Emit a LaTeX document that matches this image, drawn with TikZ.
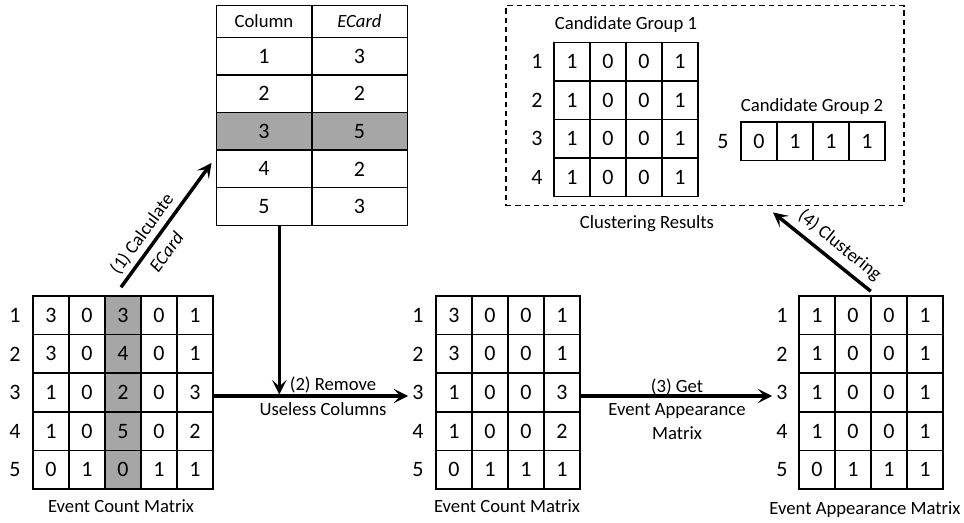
\documentclass[tikz,border=0pt]{standalone}
\usepackage{fontspec}
\setmainfont{Carlito}
\usetikzlibrary{arrows.meta,calc}
\definecolor{shade}{RGB}{166,166,166}
\begin{document}
\begin{tikzpicture}[x=0.75pt,y=-0.75pt,
  cell/.style={draw, line width=1.1pt, minimum width=27pt, minimum height=28.95pt,
    inner sep=0pt, font=\fontsize{16.5}{16.5}\selectfont},
  rowlab/.style={inner sep=0pt, font=\fontsize{16.5}{16.5}\selectfont},
  caption/.style={inner sep=0pt, font=\fontsize{14}{17.25}\selectfont},
  steplabel/.style={inner sep=3pt, align=center, font=\fontsize{14}{17.25}\selectfont},
  flow/.style={line width=2.6pt, -{Stealth[length=11pt,width=11pt,inset=5pt]}},
  tcell/.style={draw, line width=1.1pt, minimum width=71.6pt, minimum height=28.2pt,
    inner sep=0pt, font=\fontsize{16.5}{16.5}\selectfont},
  thead/.style={tcell, minimum height=23.7pt, font=\fontsize{14}{14}\selectfont},
  groupbox/.style={draw, dashed, dash pattern=on 4pt off 3pt, line width=1.1pt,
    minimum width=298.5pt, minimum height=150pt, inner sep=0pt},
]
\useasboundingbox (0,0) rectangle (964,523);

% left event count matrix, column 3 highlighted
\foreach \row [count=\r] in {{3,0,3,0,1},{3,0,4,0,1},{1,0,2,0,3},{1,0,5,0,2},{0,1,0,1,1}} {
  \foreach \v [count=\c] in \row {
    \ifnum\c=3 \def\cf{shade}\else\def\cf{none}\fi
    \node[cell, fill=\cf] (L-\r-\c) at ({33+36*(\c-0.5)}, {296+38.6*(\r-0.5)}) {\v};
  }
  \node[rowlab] (L-\r) at (15, {296+38.6*(\r-0.5)}) {\r};
}
\node[caption] (Lcap) at (121,506) {Event Count Matrix};

% ECard table
\node[thead] (T-h1) at (264,21.5) {Column};
\node[thead] (T-h2) at (359.5,21.5) {\textit{ECard}};
\foreach \a/\b [count=\r] in {1/3,2/2,3/5,4/2,5/3} {
  \ifnum\r=3 \def\cf{shade}\else\def\cf{none}\fi
  \node[tcell, fill=\cf] (T-\r-1) at (264, {37.3+37.6*(\r-0.5)}) {\a};
  \node[tcell, fill=\cf] (T-\r-2) at (359.5, {37.3+37.6*(\r-0.5)}) {\b};
}

% reduced event count matrix
\foreach \row [count=\r] in {{3,0,0,1},{3,0,0,1},{1,0,0,3},{1,0,0,2},{0,1,1,1}} {
  \foreach \v [count=\c] in \row {
    \node[cell] (M-\r-\c) at ({436+36*(\c-0.5)}, {296+38.6*(\r-0.5)}) {\v};
  }
  \node[rowlab] (M-\r) at (418, {296+38.6*(\r-0.5)}) {\r};
}
\node[caption] (Mcap) at (507,506) {Event Count Matrix};

% event appearance matrix
\foreach \row [count=\r] in {{1,0,0,1},{1,0,0,1},{1,0,0,1},{1,0,0,1},{0,1,1,1}} {
  \foreach \v [count=\c] in \row {
    \node[cell] (R-\r-\c) at ({799+36*(\c-0.5)}, {296+38.6*(\r-0.5)}) {\v};
  }
  \node[rowlab] (R-\r) at (782, {296+38.6*(\r-0.5)}) {\r};
}
\node[caption] (Rcap) at (865,510) {Event Appearance Matrix};

% clustering results
\node[groupbox] (clus) at (705,105.7) {};
\node[caption] (clcap) at (647,224) {Clustering Results};
\node[caption] (g1cap) at (626,25) {Candidate Group 1};
\foreach \r in {1,2,3,4} {
  \foreach \v [count=\c] in {1,0,0,1} {
    \node[cell] (G-\r-\c) at ({554+36*(\c-0.5)}, {42.3+38.6*(\r-0.5)}) {\v};
  }
  \node[rowlab] (G-\r) at (537, {42.3+38.6*(\r-0.5)}) {\r};
}
\node[caption] (g2cap) at (812,107) {Candidate Group 2};
\foreach \v [count=\c] in {0,1,1,1} {
  \node[cell] (H-\c) at ({741+36*(\c-0.5)}, 141.3) {\v};
}
\node[rowlab] (H-5) at (723,141.3) {5};

% step (1): compute ECard
\coordinate (c1s) at ($(L-1-3.north)+(-2,-8)$);
\coordinate (c1e) at ($(T-4-1.west)+(-4,-6)$);
\draw[flow] (c1s) -- (c1e)
  node[pos=0.36, sloped, steplabel, inner sep=0pt,
       font=\fontsize{14}{23}\selectfont] {(1) Calculate\\\textit{ECard}};

% step (2): remove useless columns
\coordinate (h2a) at ($(L-3-5.east)+(0,3.5)$);
\coordinate (h2b) at ($(M-3.west)+(-4,3.5)$);
\coordinate (c2s) at ($(T-5-1.south)+(15.3,0)$);
\draw[flow] (h2a) -- (h2b);
\draw[flow] (c2s) -- ($(c2s |- h2a)+(0,-1.5)$);
\node[caption] (lab2a) at (333,385) {(2) Remove};
\node[caption] (lab2b) at (323,409) {Useless Columns};

% step (3): appearance matrix
\draw[flow] ($(M-3-4.east)+(0,3.5)$) -- ($(R-3.west)+(-4,3.5)$);
\node[steplabel, inner sep=0pt, font=\fontsize{14}{17.5}\selectfont] (lab3) at (677,409)
  {(3) Get\\Event Appearance\\Matrix};

% step (4): clustering
\coordinate (c4s) at ($(R-1-2.north east)+(-1,-4)$);
\coordinate (c4e) at ($(clus.south)+(68,6)$);
\draw[flow] (c4s) -- (c4e)
  node[pos=0.42, sloped, above, steplabel, inner sep=4.5pt] {(4) Clustering};
\end{tikzpicture}
\end{document}
